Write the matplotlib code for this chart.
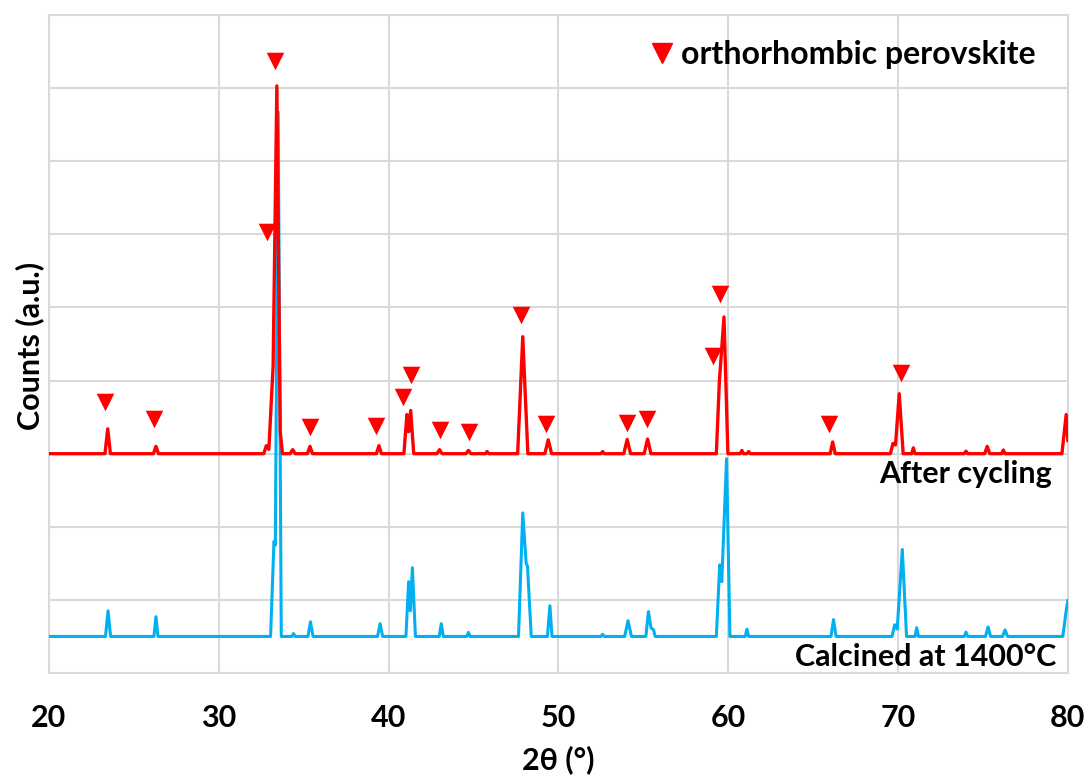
import matplotlib
matplotlib.use("Agg")
import matplotlib.pyplot as plt
from matplotlib.lines import Line2D

plt.rcParams['font.family'] = ['Lato', 'DejaVu Sans']
plt.rcParams['font.weight'] = 'bold'

# XRD pattern after cycling: 2theta vertices and counts above its own baseline
red_tt = [20.0,
          23.3, 23.46, 23.62,
          26.15, 26.3, 26.45,
          32.65, 32.8, 32.95, 33.2, 33.42, 33.62, 33.75,
          34.2, 34.35, 34.5,
          35.22, 35.37, 35.52,
          39.28, 39.43, 39.58,
          40.9, 41.08, 41.18, 41.3, 41.48,
          42.85, 43.0, 43.15,
          44.55, 44.7, 44.85,
          45.7, 45.8, 45.9,
          47.6, 47.9, 48.2,
          49.2, 49.4, 49.6,
          52.5, 52.6, 52.7,
          53.85, 54.05, 54.25,
          55.05, 55.25, 55.45,
          59.3, 59.48, 59.75, 59.98,
          60.7, 60.8, 60.9,
          61.1, 61.2, 61.3,
          66.0, 66.15, 66.3,
          69.55, 69.7, 69.85, 70.07, 70.3,
          70.8, 70.9, 71.0,
          73.9, 74.0, 74.1,
          75.1, 75.25, 75.4,
          76.1, 76.2, 76.3,
          79.65, 79.9, 80.0]
red_counts = [0,
              0, 340, 0,
              0, 100, 0,
              0, 110, 60, 1200, 5030, 300, 0,
              0, 55, 0,
              0, 100, 0,
              0, 110, 0,
              0, 535, 300, 590, 0,
              0, 55, 0,
              0, 45, 0,
              0, 30, 0,
              0, 1600, 0,
              0, 190, 0,
              0, 30, 0,
              0, 195, 0,
              0, 200, 0,
              0, 1000, 1870, 0,
              0, 45, 0,
              0, 30, 0,
              0, 160, 0,
              0, 140, 120, 820, 0,
              0, 80, 0,
              0, 35, 0,
              0, 100, 0,
              0, 50, 0,
              0, 535, 180]

# XRD pattern calcined at 1400 C
blue_tt = [20.0,
           23.33, 23.48, 23.63,
           26.18, 26.3, 26.42,
           33.05, 33.25, 33.33, 33.5, 33.68,
           34.3, 34.4, 34.5,
           35.25, 35.4, 35.55,
           39.35, 39.5, 39.65,
           41.02, 41.18, 41.28, 41.4, 41.58,
           42.98, 43.1, 43.22,
           44.6, 44.7, 44.8,
           47.65, 47.9, 48.1, 48.18, 48.4,
           49.35, 49.5, 49.62,
           52.5, 52.6, 52.7,
           53.9, 54.1, 54.3,
           55.15, 55.3, 55.45, 55.6, 55.7,
           59.3, 59.5, 59.62, 59.9, 60.1,
           61.0, 61.1, 61.2,
           66.05, 66.2, 66.35,
           69.65, 69.8, 69.95, 70.25, 70.5,
           71.0, 71.1, 71.2,
           73.9, 74.0, 74.1,
           75.15, 75.3, 75.45,
           76.15, 76.3, 76.45,
           79.7, 79.9, 80.0]
blue_counts = [0,
               0, 350, 0,
               0, 270, 0,
               0, 1300, 1250, 7170, 0,
               0, 40, 0,
               0, 200, 0,
               0, 175, 0,
               0, 750, 350, 940, 0,
               0, 175, 0,
               0, 55, 0,
               0, 1690, 1000, 960, 0,
               0, 420, 0,
               0, 30, 0,
               0, 215, 0,
               0, 340, 120, 90, 0,
               0, 980, 750, 2430, 0,
               0, 100, 0,
               0, 230, 0,
               0, 160, 100, 1190, 0,
               0, 120, 0,
               0, 60, 0,
               0, 130, 0,
               0, 90, 0,
               0, 350, 490]

# orthorhombic perovskite reflection markers
marker_tt = [23.3, 26.2, 33.3, 32.86, 35.37, 39.24, 40.83, 41.3, 43.03, 44.73,
             47.78, 49.27, 54.02, 55.2, 59.08, 59.52, 65.95, 70.16]
marker_y = [3710, 3480, 8370, 6030, 3360, 3380, 3780, 4080, 3330, 3290,
            4900, 3410, 3420, 3480, 4330, 5190, 3410, 4110]

red_offset = 3000
blue_offset = 500

fig = plt.figure(figsize=(10.88, 7.75), dpi=100)
ax = fig.add_axes([0.045, 0.1316, 0.9365, 0.849])

ax.plot(blue_tt, [c + blue_offset for c in blue_counts], color='#00B0F0', lw=2.2, zorder=3)
ax.plot(red_tt, [c + red_offset for c in red_counts], color='#FF0000', lw=2.4, zorder=4)
ax.scatter(marker_tt, marker_y, marker='v', s=160, color='#FF0000', linewidths=0, zorder=5)

ax.set_xlim(20, 80)
ax.set_ylim(0, 9000)
ax.set_xticks(range(20, 81, 10))
ax.set_yticks(range(0, 9001, 1000))
ax.set_yticklabels([])
ax.tick_params(length=0, labelsize=22, pad=22)
ax.grid(True, color='#d9d9d9', lw=1.5)
ax.set_axisbelow(True)
for s in ax.spines.values():
    s.set_color('#d9d9d9')
    s.set_linewidth(1.5)

ax.set_xlabel('2θ (°)', fontsize=22, fontweight='bold', labelpad=10)
fig.text(30 / 1088, 1 - 346 / 775, 'Counts (a.u.)', rotation=90, ha='center', va='center',
         fontsize=22, fontweight='bold')

ax.text(0.984, 0.302, 'After cycling', transform=ax.transAxes, ha='right', va='center',
        fontsize=22, fontweight='bold')
ax.text(0.989, 0.024, 'Calcined at 1400°C', transform=ax.transAxes, ha='right', va='center',
        fontsize=22, fontweight='bold')

handle = Line2D([], [], marker='v', color='#FF0000', ls='none', markersize=14)
ax.legend([handle], ['orthorhombic perovskite'], loc='upper right', frameon=False,
          prop={'size': 23, 'weight': 'bold'}, handletextpad=0.0, handlelength=1.2,
          bbox_to_anchor=(0.997, 1.005))

fig.savefig('out.png', dpi=100)
